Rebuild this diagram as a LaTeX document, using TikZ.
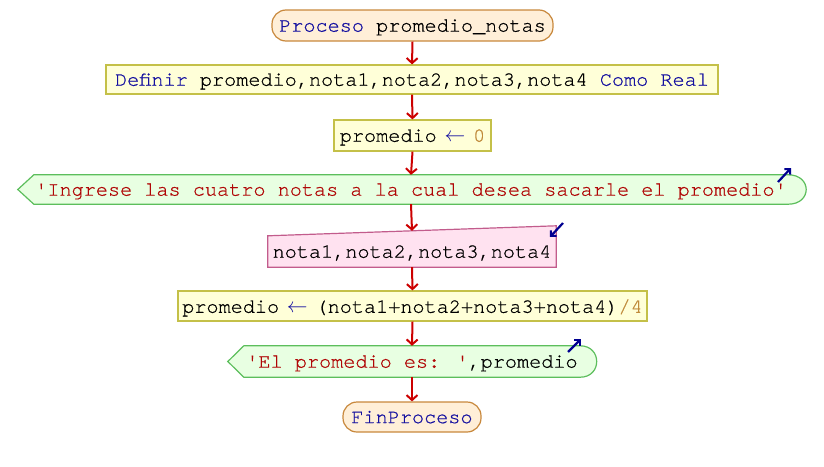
\documentclass[tikz,border=0pt]{standalone}
\usepackage{fontspec}
\setmainfont[RawFeature={embolden=0.7}]{TeX Gyre Cursor}
\usetikzlibrary{arrows.meta,calc,backgrounds}
\definecolor{kw}{HTML}{1410A0}
\definecolor{strc}{HTML}{B00606}
\definecolor{numc}{HTML}{C08A3A}
\definecolor{flowc}{HTML}{CC0000}
\definecolor{tinyc}{HTML}{000090}
\definecolor{termfill}{HTML}{FFEFD8}
\definecolor{termline}{HTML}{C8883C}
\definecolor{asgfill}{HTML}{FFFFD8}
\definecolor{asgline}{HTML}{C4C048}
\definecolor{outfill}{HTML}{E8FFE2}
\definecolor{outline}{HTML}{5CBE5C}
\definecolor{inpfill}{HTML}{FFE2F0}
\definecolor{inpline}{HTML}{C25C8C}
\newcommand{\qs}{\textquotesingle}
\newcommand{\larr}{\makebox[12.1pt][c]{\textcolor{kw}{$\leftarrow$}}}
\tikzset{
  txt/.style={font=\fontsize{20.2}{24}\selectfont, inner sep=0pt, text depth=0pt},
  termbox/.style={txt, draw=termline, fill=termfill, line width=1.2pt, rounded corners=14pt},
  asgbox/.style={txt, draw=asgline, fill=asgfill, line width=1.2pt},
  outshape/.style={draw=outline, fill=outfill, line width=1.2pt},
  inpshape/.style={draw=inpline, fill=inpfill, line width=1.2pt},
  flow/.style={draw=flowc, line width=2pt, -{Straight Barb[length=5pt,width=11pt,line width=2pt]}},
  tiny/.style={draw=tinyc, line width=2.2pt, -{Straight Barb[length=4pt,width=8pt,line width=2pt]}}
}
\begin{document}
\begin{tikzpicture}[x=1pt,y=-1pt]
\useasboundingbox (0,0) rectangle (824,466);
% nodes
\node[termbox, minimum width=281pt, minimum height=31pt] (start) at (412.5,25.5)
  {\textcolor{kw}{Proceso} promedio\_notas};
\node[asgbox, minimum width=612pt, minimum height=29pt] (def) at (412,79.5)
  {\textcolor{kw}{Definir} promedio,nota1,nota2,nota3,nota4 \textcolor{kw}{Como Real}};
\node[asgbox, minimum width=157pt, minimum height=31pt] (asg0) at (412.5,135.5)
  {promedio \larr{} \textcolor{numc}{0}};
\node[txt, minimum width=754pt, minimum height=29pt] (out1) at (411,189.5)
  {\textcolor{strc}{\qs Ingrese las cuatro notas a la cual desea sacarle el promedio\qs}};
\node[txt, minimum width=288pt, minimum height=31pt] (inp) at (412,251.5)
  {nota1,nota2,nota3,nota4};
\node[asgbox, minimum width=469pt, minimum height=30pt] (asg) at (412.5,306)
  {promedio \larr{} (nota1+nota2+nota3+nota4)\textcolor{numc}{/4}};
\node[txt, minimum width=336pt, minimum height=31pt] (out2) at (412,361.5)
  {\textcolor{strc}{\qs El promedio es: \qs},promedio};
\node[termbox, minimum width=138pt, minimum height=30pt] (end) at (412,417)
  {\textcolor{kw}{FinProceso}};
% shapes behind text
\begin{scope}[on background layer]
\draw[outshape] ($(out1.west)+(-16,0)$) -- (out1.north west) -- (out1.north east)
  .. controls ($(out1.north east)+(24,0)$) and ($(out1.south east)+(24,0)$) .. (out1.south east)
  -- (out1.south west) -- cycle;
\draw[outshape] ($(out2.west)+(-16,0)$) -- (out2.north west) -- (out2.north east)
  .. controls ($(out2.north east)+(22,0)$) and ($(out2.south east)+(22,0)$) .. (out2.south east)
  -- (out2.south west) -- cycle;
\draw[inpshape] (inp.south west) -- (inp.north west) -- ($(inp.north east)+(0,-10)$)
  -- (inp.south east) -- cycle;
\end{scope}
\coordinate (inptop) at ($(inp.north)+(0,-5)$);
% connectors
\draw[flow] (start.south) -- (def.north);
\draw[flow] (def.south) -- (asg0.north);
\draw[flow] (asg0.south) -- (out1.north);
\draw[flow] (out1.south) -- (inptop);
\draw[flow] (inp.south) -- (asg.north);
\draw[flow] (asg.south) -- (out2.north);
\draw[flow] (out2.south) -- (end.north);
% small io markers
\coordinate (m1a) at (778,182); \coordinate (m1b) at (791,168);
\coordinate (m2a) at (563,223); \coordinate (m2b) at (550,237);
\coordinate (m3a) at (568,352); \coordinate (m3b) at (581,339);
\draw[tiny] (m1a) -- (m1b);
\draw[tiny] (m2a) -- (m2b);
\draw[tiny] (m3a) -- (m3b);
\end{tikzpicture}
\end{document}
